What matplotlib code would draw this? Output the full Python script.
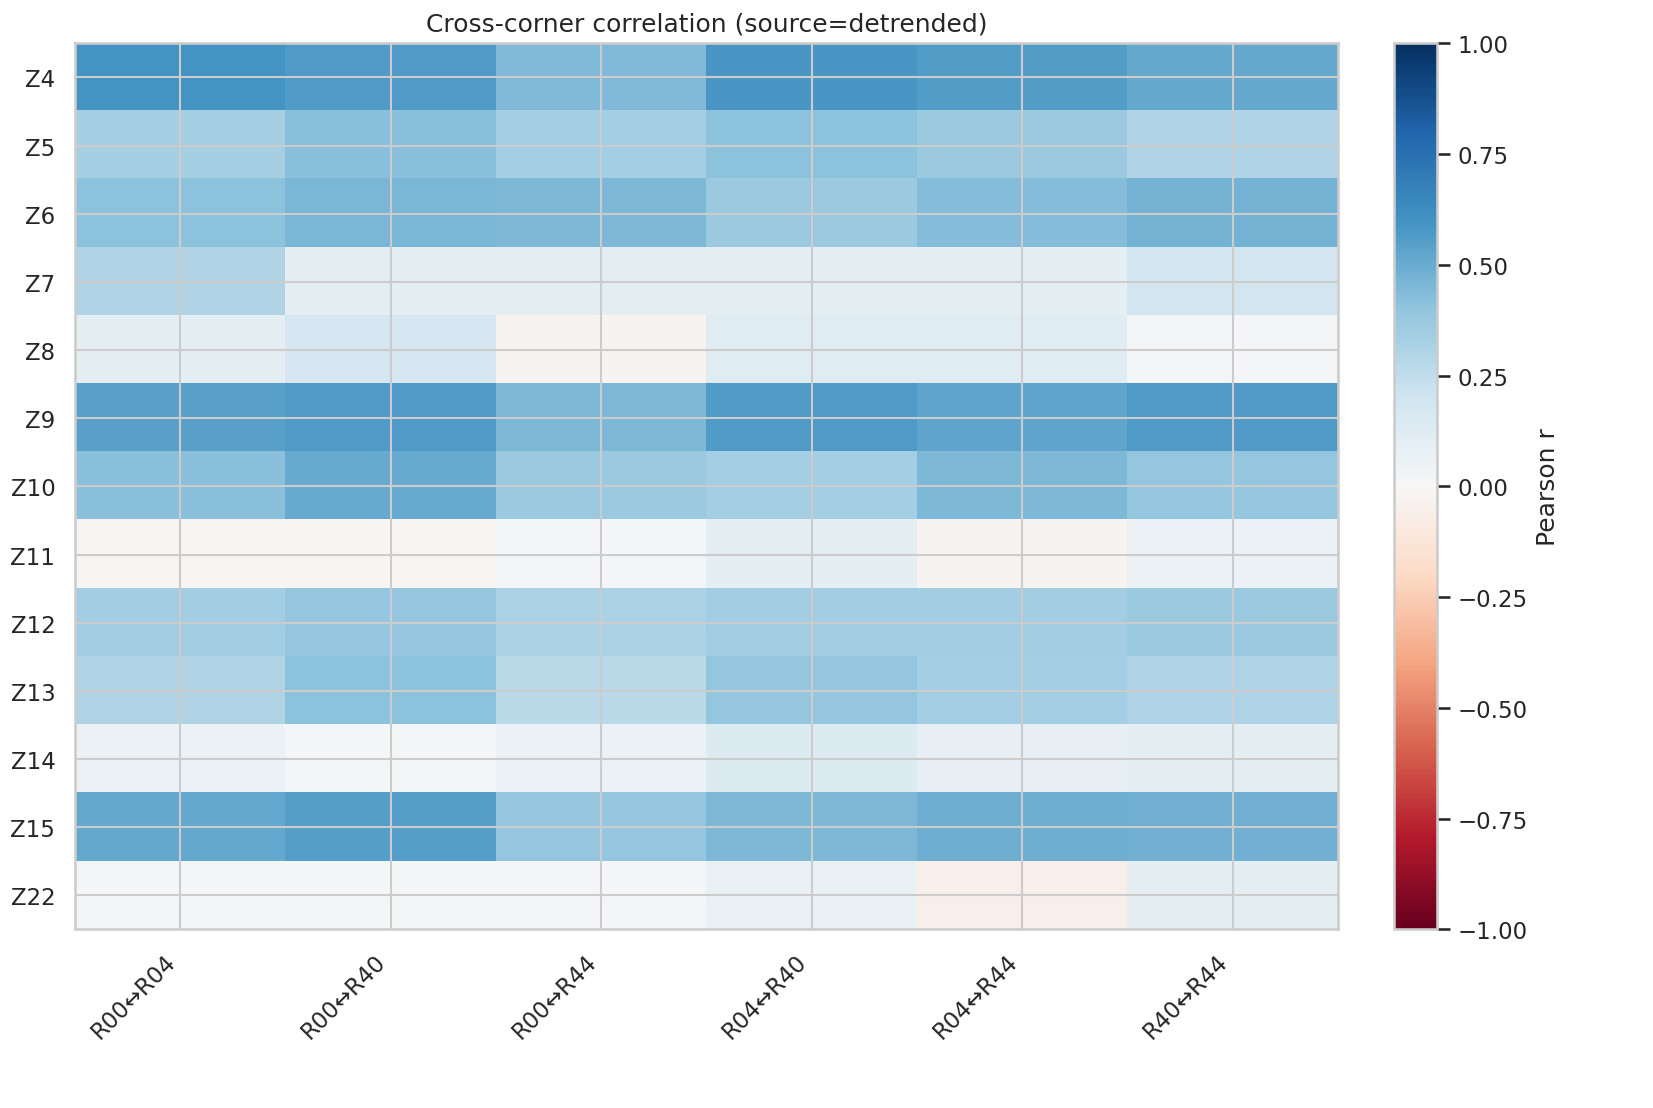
import numpy as np
import matplotlib
matplotlib.use("Agg")
import matplotlib.pyplot as plt
import seaborn as sns

pairs = ["R00↔R04", "R00↔R40", "R00↔R44", "R04↔R40", "R04↔R44", "R40↔R44"]
zernikes = ["Z4", "Z5", "Z6", "Z7", "Z8", "Z9", "Z10", "Z11", "Z12", "Z13", "Z14", "Z15", "Z22"]

# pearson r per zernike term (rows) and corner pair (cols)
r_Z4 = [0.60, 0.57, 0.44, 0.58, 0.56, 0.51]
r_Z5 = [0.33, 0.42, 0.34, 0.41, 0.37, 0.30]
r_Z6 = [0.41, 0.46, 0.45, 0.37, 0.43, 0.47]
r_Z7 = [0.30, 0.10, 0.10, 0.10, 0.10, 0.18]
r_Z8 = [0.10, 0.17, -0.03, 0.12, 0.12, 0.01]
r_Z9 = [0.54, 0.57, 0.45, 0.57, 0.53, 0.57]
r_Z10 = [0.42, 0.50, 0.37, 0.34, 0.45, 0.39]
r_Z11 = [-0.01, -0.02, 0.01, 0.09, -0.03, 0.06]
r_Z12 = [0.35, 0.39, 0.32, 0.35, 0.35, 0.37]
r_Z13 = [0.30, 0.41, 0.27, 0.39, 0.34, 0.31]
r_Z14 = [0.06, 0.01, 0.06, 0.14, 0.08, 0.10]
r_Z15 = [0.51, 0.55, 0.39, 0.45, 0.49, 0.48]
r_Z22 = [0.02, 0.02, 0.01, 0.07, -0.05, 0.10]

corr = np.array([r_Z4, r_Z5, r_Z6, r_Z7, r_Z8, r_Z9, r_Z10,
                 r_Z11, r_Z12, r_Z13, r_Z14, r_Z15, r_Z22])

sns.set_theme(style="whitegrid")

fig = plt.figure(figsize=(11.02, 7.393), dpi=150)
ax = fig.add_axes([0.0454, 0.161, 0.764, 0.799])
cax = fig.add_axes([0.8435, 0.161, 0.026, 0.799])

im = ax.imshow(corr, cmap="RdBu", vmin=-1, vmax=1, aspect="auto")
ax.set_xticks(range(len(pairs)))
ax.set_xticklabels(pairs, rotation=45, ha="right")
ax.set_yticks(range(len(zernikes)))
ax.set_yticklabels(zernikes)
ax.set_title("Cross-corner correlation (source=detrended)")

cb = fig.colorbar(im, cax=cax)
cb.set_label("Pearson r")

fig.savefig("out.png", dpi=150)
